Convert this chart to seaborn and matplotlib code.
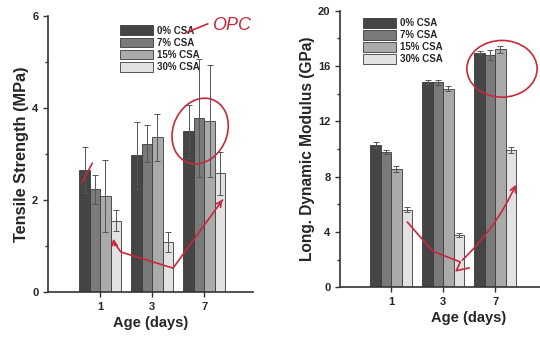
import matplotlib
matplotlib.use("Agg")
import matplotlib.pyplot as plt
from matplotlib.patches import Ellipse
from matplotlib.ticker import MultipleLocator
import pandas as pd
import seaborn as sns

ages = ["1", "3", "7"]
mixes = ["0% CSA", "7% CSA", "15% CSA", "30% CSA"]
colors = ["#454545", "#7a7a7a", "#aaaaaa", "#e2e2e2"]

# tensile strength (MPa) per mix, by age 1 / 3 / 7 days
ts_0 = [2.66, 2.97, 3.49]
ts_7 = [2.23, 3.22, 3.78]
ts_15 = [2.08, 3.36, 3.72]
ts_30 = [1.55, 1.09, 2.58]
ts_err_0 = [0.50, 0.73, 0.58]
ts_err_7 = [0.32, 0.40, 1.28]
ts_err_15 = [0.78, 0.52, 1.22]
ts_err_30 = [0.23, 0.21, 0.47]

# longitudinal dynamic modulus (GPa)
ld_0 = [10.29, 14.82, 16.96]
ld_7 = [9.81, 14.82, 16.80]
ld_15 = [8.55, 14.36, 17.20]
ld_30 = [5.61, 3.76, 9.93]
ld_err_0 = [0.20, 0.15, 0.10]
ld_err_7 = [0.15, 0.20, 0.35]
ld_err_15 = [0.20, 0.20, 0.25]
ld_err_30 = [0.20, 0.15, 0.25]


def make_df(vals, errs):
    rows = []
    for mix, v, e in zip(mixes, vals, errs):
        for age, vv, ee in zip(ages, v, e):
            rows.append({"age": age, "mix": mix, "val": vv, "err": ee})
    return pd.DataFrame(rows)


ts = make_df([ts_0, ts_7, ts_15, ts_30], [ts_err_0, ts_err_7, ts_err_15, ts_err_30])
ld = make_df([ld_0, ld_7, ld_15, ld_30], [ld_err_0, ld_err_7, ld_err_15, ld_err_30])

sns.set_style("ticks")
narrow = ["Liberation Sans Narrow", "Liberation Sans", "DejaVu Sans"]
plt.rcParams["font.family"] = narrow
plt.rcParams["font.weight"] = "bold"

fig = plt.figure(figsize=(5.4, 3.4), dpi=100)
ax1 = fig.add_axes([0.089, 0.141, 0.38, 0.812])
ax2 = fig.add_axes([0.63, 0.155, 0.474, 0.8135])


def draw(ax, df, ymax, major, minor, ylabel, ysize, legpos, xlim):
    sns.barplot(data=df, x="age", y="val", hue="mix", order=ages, hue_order=mixes,
                palette=colors, errorbar=None, width=0.8, edgecolor="#3a3a3a",
                linewidth=0.6, legend=False, ax=ax)
    bars = list(ax.containers)
    for cont, mix in zip(bars, mixes):
        sub = df[df["mix"] == mix].set_index("age").loc[ages]
        xs = [b.get_x() + b.get_width() / 2 for b in cont]
        ax.errorbar(xs, sub["val"], yerr=sub["err"], fmt="none", ecolor="#555555",
                    elinewidth=0.7, capsize=2.5, capthick=0.7)
    ax.set_ylim(0, ymax)
    ax.set_xlim(*xlim)
    ax.yaxis.set_major_locator(MultipleLocator(major))
    ax.yaxis.set_minor_locator(MultipleLocator(minor))
    ax.tick_params(axis="both", which="major", length=3.5, width=1, labelsize=8, color="#333333")
    ax.tick_params(axis="y", which="minor", length=2.5, width=1, color="#333333")
    for lab in ax.get_xticklabels() + ax.get_yticklabels():
        lab.set_fontweight("bold")
    ax.set_xlabel("Age (days)", fontsize=10.5, fontweight="bold", labelpad=3)
    ax.set_ylabel(ylabel, fontsize=ysize, fontweight="bold", labelpad=2,
                  family=["Liberation Sans", "DejaVu Sans"])
    sns.despine(ax=ax)
    for s in ["left", "bottom"]:
        ax.spines[s].set_color("#333333")
        ax.spines[s].set_linewidth(1.2)
    handles = [c.patches[0] for c in bars]
    ax.legend(handles, mixes, loc="upper left", bbox_to_anchor=legpos,
              bbox_transform=fig.transFigure, frameon=False, fontsize=7,
              handlelength=3.4, handleheight=1.2, labelspacing=0.18,
              handletextpad=0.4, borderpad=0, borderaxespad=0)


draw(ax1, ts, 6, 2, 1, "Tensile Strength (MPa)", 11.8, (0.222, 0.925), (-1.0, 2.94))
draw(ax2, ld, 20, 4, 2, "Long. Dynamic Modulus (GPa)", 11.2, (0.672, 0.948), (-0.98, 3.94))

# hand-drawn red marks
red = "#c8283c"
ax1.add_patch(Ellipse((1.92, 3.5), 1.05, 1.45, angle=-15, fill=False, ec=red, lw=1.2, clip_on=False))
ax1.plot([0.25, 0.40, 1.40, 2.35], [1.10, 0.87, 0.52, 2.00], color=red, lw=1.2, clip_on=False)
ax1.annotate("", xy=(0.25, 1.22), xytext=(0.28, 0.95),
             arrowprops=dict(arrowstyle="->", color=red, lw=1.2))
ax1.annotate("", xy=(2.38, 2.06), xytext=(2.25, 1.85),
             arrowprops=dict(arrowstyle="->", color=red, lw=1.2))
ax1.plot([-0.35, -0.15], [2.38, 2.8], color=red, lw=1.2)
fig.text(0.393, 0.912, "OPC", color=red, fontsize=13, fontweight="normal", style="italic",
         family=["Liberation Sans", "DejaVu Sans"])
fig.add_artist(plt.Line2D([0.343, 0.385], [0.903, 0.93], color=red, lw=1.2))

ax2.add_patch(Ellipse((2.13, 15.8), 1.35, 4.1, fill=False, ec=red, lw=1.2, clip_on=False))
ax2.plot([0.31, 0.8, 1.33, 1.25, 1.5], [4.72, 2.6, 1.83, 1.2, 1.4], color=red, lw=1.2)
ax2.annotate("", xy=(2.42, 7.6), xytext=(1.33, 1.83),
             arrowprops=dict(arrowstyle="->", color=red, lw=1.2,
                             connectionstyle="arc3,rad=0.1"))

fig.savefig("out.png", dpi=100)
plt.close(fig)
